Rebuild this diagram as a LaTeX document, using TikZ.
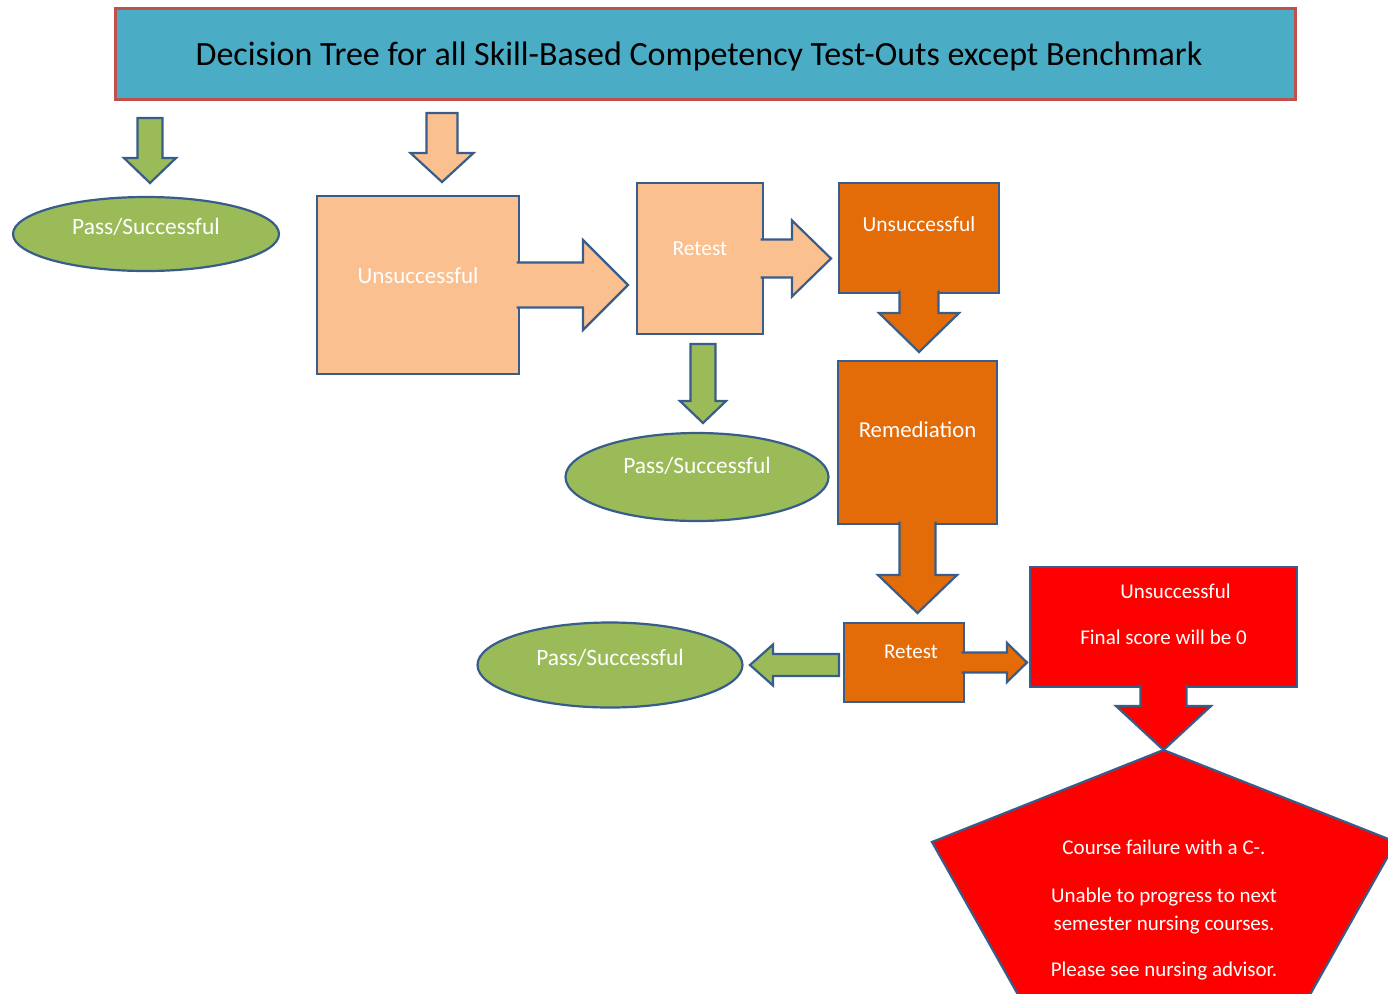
\documentclass[tikz,border=0pt]{standalone}
\usepackage{fontspec}
\setmainfont{Carlito}
\usetikzlibrary{shapes.geometric,calc}

\definecolor{leaf}{HTML}{9BBB59}
\definecolor{peach}{HTML}{FAC090}
\definecolor{tangerine}{HTML}{E36C09}
\definecolor{alarm}{HTML}{FF0000}
\definecolor{titlefill}{HTML}{4BACC6}
\definecolor{titleedge}{HTML}{C0504D}
\definecolor{edge}{HTML}{385D8A}

\tikzset{
  shaftw/.store in=\shaftw, headw/.store in=\headw, headl/.store in=\headl,
  shaftw=20, headw=40, headl=20,
  fat/.style={to path={let \p1=(\tikztostart), \p2=(\tikztotarget),
      \n1={atan2(\y2-\y1,\x2-\x1)}, \n2={veclen(\x2-\x1,\y2-\y1)} in
      ([shift={(\p1)},rotate=\n1]0pt,{\shaftw*0.25pt})
      -- ([shift={(\p1)},rotate=\n1]{\n2-\headl*0.5pt},{\shaftw*0.25pt})
      -- ([shift={(\p1)},rotate=\n1]{\n2-\headl*0.5pt},{\headw*0.25pt})
      -- ([shift={(\p1)},rotate=\n1]{\n2+0pt},0pt)
      -- ([shift={(\p1)},rotate=\n1]{\n2-\headl*0.5pt},{-\headw*0.25pt})
      -- ([shift={(\p1)},rotate=\n1]{\n2-\headl*0.5pt},{-\shaftw*0.25pt})
      -- ([shift={(\p1)},rotate=\n1]0pt,{-\shaftw*0.25pt}) -- cycle}},
  callout/.style={to path={let \p1=(\tikztostart), \p2=(\tikztotarget),
      \n1={atan2(\y2-\y1,\x2-\x1)}, \n2={veclen(\x2-\x1,\y2-\y1)} in
      ([shift={(\p1)},rotate=\n1]-1.2pt,{\shaftw*0.25pt})
      -- ([shift={(\p1)},rotate=\n1]{\n2-\headl*0.5pt},{\shaftw*0.25pt})
      -- ([shift={(\p1)},rotate=\n1]{\n2-\headl*0.5pt},{\headw*0.25pt})
      -- ([shift={(\p1)},rotate=\n1]{\n2+0pt},0pt)
      -- ([shift={(\p1)},rotate=\n1]{\n2-\headl*0.5pt},{-\headw*0.25pt})
      -- ([shift={(\p1)},rotate=\n1]{\n2-\headl*0.5pt},{-\shaftw*0.25pt})
      -- ([shift={(\p1)},rotate=\n1]-1.2pt,{-\shaftw*0.25pt})}},
}

\begin{document}
\begin{tikzpicture}[x=0.5pt, y=-0.5pt,
  box/.style={rectangle, draw=edge, line width=1.1pt, inner sep=0pt, outer sep=0pt, text=white,
    text height=8pt, text depth=11pt, font=\fontsize{11}{13}\selectfont},
  pass/.style={ellipse, fill=leaf, draw=edge, line width=1.1pt, inner sep=0pt, outer sep=0pt, text=white,
    text height=8pt, text depth=8pt, font=\fontsize{11.7}{13}\selectfont},
  block/.style={draw=edge, line width=1.1pt, line join=miter}]
\useasboundingbox (0,0) rectangle (1388,993);
\clip (0,0) rectangle (1388,993);

% title
\node[rectangle, fill=titlefill, draw=titleedge, line width=1.5pt, minimum width=590pt, minimum height=45.5pt,
  inner sep=0pt, text height=15pt, text depth=3pt, font=\fontsize{17}{20}\selectfont] (title) at (705,53.5)
  {Decision Tree for all Skill-Based Competency Test-Outs except Benchmark\hspace*{6pt}};

% first try
\coordinate (passtop) at (150,118);
\coordinate (passtip) at (150,183);
\draw[block, fill=leaf, fat, shaftw=25, headw=52, headl=25] (passtop) to (passtip);
\node[pass, minimum width=133pt, minimum height=37pt] (pass1) at (146,234) {Pass/Successful};

\coordinate (failtop) at (442,113);
\coordinate (failtip) at (442,182);
\draw[block, fill=peach, fat, shaftw=31, headw=63, headl=29] (failtop) to (failtip);
\node[box, fill=peach, minimum width=101pt, minimum height=89pt, text depth=10pt,
  font=\fontsize{11.5}{13}\selectfont] (unsucc1) at (418,285) {Unsuccessful};
\coordinate (u1tip) at (628,285);
\draw[block, fill=peach, callout, shaftw=45, headw=90, headl=45] (unsucc1.east) to (u1tip);

% second try
\node[box, fill=peach, minimum width=63pt, minimum height=75.5pt, font=\fontsize{10.7}{13}\selectfont] (retest1) at (700,258.5) {Retest};
\coordinate (r1tip) at (831,258.5);
\draw[block, fill=peach, callout, shaftw=38, headw=76, headl=39] (retest1.east) to (r1tip);

\node[box, fill=tangerine, minimum width=80pt, minimum height=55pt, text depth=15pt,
  font=\fontsize{10.7}{13}\selectfont] (unsucc2) at (919,238) {Unsuccessful};
\coordinate (u2tip) at (919,352);
\draw[block, fill=tangerine, callout, shaftw=39, headw=80, headl=39] (unsucc2.south) to (u2tip);

\coordinate (r1low) at (703,344);
\coordinate (p2tip) at (703,423);
\draw[block, fill=leaf, fat, shaftw=25, headw=46, headl=22] (r1low) to (p2tip);
\node[pass, minimum width=131.5pt, minimum height=44pt, text depth=12pt] (pass2) at (697,477) {Pass/Successful};

% remediation and last try
\node[box, fill=tangerine, minimum width=79.5pt, minimum height=81.5pt, text depth=13pt,
  font=\fontsize{11.4}{13}\selectfont] (remed) at (917.5,442.5) {Remediation};
\coordinate (remtip) at (917.5,613);
\draw[block, fill=tangerine, callout, shaftw=36, headw=79, headl=38] (remed.south) to (remtip);

\node[box, fill=tangerine, minimum width=60pt, minimum height=39.5pt, text depth=12pt, font=\fontsize{10.5}{13}\selectfont] (retest2) at (904,662.5) {\hspace*{7pt}Retest};
\coordinate (r2tip) at (1027,662.5);
\draw[block, fill=tangerine, callout, shaftw=20, headw=39, headl=20] (retest2.east) to (r2tip);

\coordinate (r2back) at (839,665);
\coordinate (p3tip) at (750,665);
\draw[block, fill=leaf, fat, shaftw=22, headw=41, headl=23] (r2back) to (p3tip);
\node[pass, minimum width=132.5pt, minimum height=42.5pt] (pass3) at (610,665) {Pass/Successful};

% failure
\node[box, fill=alarm, minimum width=133.5pt, minimum height=60pt, align=center, text height=31pt, text depth=14pt,
  font=\fontsize{10.5}{14}\selectfont] (fail) at (1163.5,627) {\hspace*{12pt}Unsuccessful\\[9pt]Final score will be 0};
\coordinate (apex) at (1163.5,750);
\draw[block, fill=alarm] (apex) -- (1396,842) -- (1307,1000) -- (1021,1000) -- (932,842) -- cycle;
\draw[block, fill=alarm, callout, shaftw=46, headw=95, headl=44] (fail.south) to (apex);
\node[text=white, align=center, font=\fontsize{10.5}{14}\selectfont] (advice) at (1164,910)
  {Course failure with a C-.\\[10pt]Unable to progress to next\\semester nursing courses.\\[9pt]Please see nursing advisor.};
\end{tikzpicture}
\end{document}
